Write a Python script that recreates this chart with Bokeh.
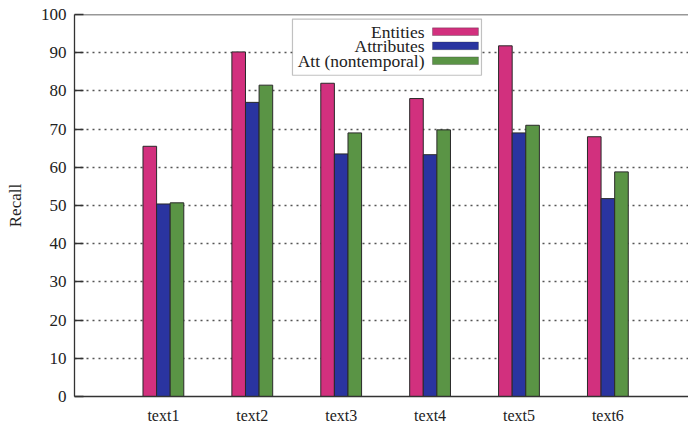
from bokeh.plotting import figure
from bokeh.models import (ColumnDataSource, Range1d, FixedTicker, Span, Label,
                          BoxAnnotation)
from bokeh.transform import dodge
from bokeh.embed import file_html
from bokeh.resources import INLINE

# ---- data ----
categories = ["text1", "text2", "text3", "text4", "text5", "text6"]
series_names = ["Entities", "Attributes", "Att (nontemporal)"]
entities = [65.5, 90.2, 82.0, 78.0, 91.8, 68.0]
attributes = [50.4, 77.0, 63.5, 63.3, 69.0, 51.8]
att_nontemporal = [50.7, 81.5, 69.0, 69.8, 71.0, 58.8]
y_ticks = [0, 10, 20, 30, 40, 50, 60, 70, 80, 90, 100]

# ---- style ----
FONT = "Liberation Serif"
colors = ["#d2307e", "#2a34a0", "#5a9445"]
BAR_W = 0.153

pos = list(range(1, len(categories) + 1))
src = ColumnDataSource(dict(x=pos, e=entities, a=attributes, n=att_nontemporal))

p = figure(width=688, height=426, output_backend="svg", toolbar_location=None,
           x_range=Range1d(0, 6.907), y_range=Range1d(0, 100),
           min_border_left=74, min_border_right=0, min_border_top=14,
           min_border_bottom=29)
p.outline_line_color = None
p.background_fill_color = "white"
p.border_fill_color = "white"

for field, off, col in zip(["e", "a", "n"], [-BAR_W, 0, BAR_W], colors):
    p.vbar(x=dodge("x", off, range=p.x_range), top=field, width=BAR_W, bottom=0,
           source=src, fill_color=col, line_color="#2a2a2a", line_width=1)

# axes
p.yaxis.ticker = FixedTicker(ticks=y_ticks)
p.yaxis.major_tick_in = 9
p.yaxis.major_tick_out = 0
p.yaxis.minor_tick_line_color = None
p.yaxis.major_label_standoff = 8
p.yaxis.major_label_text_font = FONT
p.yaxis.major_label_text_font_size = "17px"
p.yaxis.major_label_text_color = "#222222"
p.yaxis.axis_line_color = "#333333"
p.yaxis.axis_line_width = 1.3
p.yaxis.major_tick_line_color = "#333333"
p.yaxis.major_tick_line_width = 1.3
p.yaxis.axis_label = "Recall"
p.yaxis.axis_label_text_font = FONT
p.yaxis.axis_label_text_font_size = "17px"
p.yaxis.axis_label_text_font_style = "normal"
p.yaxis.axis_label_text_color = "#222222"
p.yaxis.axis_label_standoff = 13

p.xaxis.ticker = FixedTicker(ticks=pos)
p.xaxis.major_label_overrides = {i: c for i, c in zip(pos, categories)}
p.xaxis.major_tick_in = 0
p.xaxis.major_tick_out = 0
p.xaxis.minor_tick_line_color = None
p.xaxis.major_label_standoff = 10
p.xaxis.major_label_text_font = FONT
p.xaxis.major_label_text_font_size = "16px"
p.xaxis.major_label_text_color = "#222222"
p.xaxis.axis_line_color = "#333333"
p.xaxis.axis_line_width = 1.3

# grid
p.xgrid.grid_line_color = None
p.ygrid.ticker = FixedTicker(ticks=y_ticks[1:-1])
p.ygrid.grid_line_color = "#555555"
p.ygrid.grid_line_dash = "2 4"
p.ygrid.grid_line_width = 1.5

# top border
p.add_layout(Span(location=100, dimension="width", line_color="#333333",
                  line_width=1.3))

# legend (gnuplot style: text right-aligned, sample on the right)
p.add_layout(BoxAnnotation(left=2.452, right=4.578, bottom=84.1, top=98.8,
                           fill_color="white", fill_alpha=1.0,
                           line_color="#333333", line_width=1.2, level="annotation"))
row_y = [95.5, 91.8, 87.9]
for name, col, yy in zip(series_names, colors, row_y):
    p.add_layout(BoxAnnotation(left=4.027, right=4.544, bottom=yy - 1.0, top=yy + 1.0,
                               fill_color=col, fill_alpha=1.0,
                               line_color="#2a2a2a", line_width=1))
    p.add_layout(Label(x=3.937, y=yy, text=name, text_align="right",
                       text_baseline="middle", text_font=FONT,
                       text_font_size="17.5px", text_color="#222222"))

open("out.html", "w").write(file_html(p, INLINE))
